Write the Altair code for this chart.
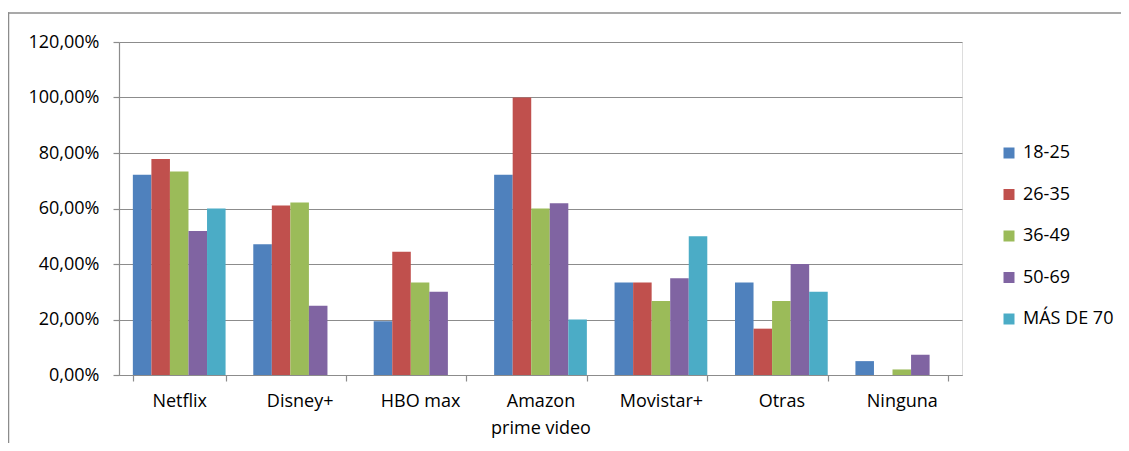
import altair as alt
import pandas as pd

categories = ["Netflix", "Disney+", "HBO max", "Amazon prime video", "Movistar+", "Otras", "Ninguna"]
groups = ["18-25", "26-35", "36-49", "50-69", "MÁS DE 70"]
colors = ["#4F81BD", "#C0504D", "#9BBB59", "#8064A2", "#4BACC6"]

v_18_25 = [72.2, 47.1, 19.4, 72.2, 33.3, 33.3, 5.0]
v_26_35 = [77.8, 61.1, 44.4, 100.0, 33.3, 16.7, 0.0]
v_36_49 = [73.3, 62.2, 33.3, 60.0, 26.7, 26.7, 2.0]
v_50_69 = [51.9, 25.0, 30.0, 61.9, 34.9, 40.0, 7.3]
v_70 = [60.0, 0.0, 0.0, 20.0, 50.0, 30.0, 0.0]

series = [v_18_25, v_26_35, v_36_49, v_50_69, v_70]
rows = []
for g, vals in zip(groups, series):
    for c, v in zip(categories, vals):
        rows.append({"Plataforma": c, "Edad": g, "Valor": v})
df = pd.DataFrame(rows)

FONT = "Open Sans"
FS = 18
GRID = "#8c8c8c"

bars = alt.Chart(df).mark_bar().encode(
    x=alt.X("Plataforma:N", sort=categories,
            scale=alt.Scale(paddingInner=0.23, paddingOuter=0.115),
            axis=alt.Axis(title=None, labelAngle=0, tickBand="extent", tickSize=6, grid=False,
                          labelPadding=11, labelFontSize=FS, labelFont=FONT,
                          labelColor="#000000", domainColor=GRID, tickColor=GRID,
                          domainWidth=1.2, tickWidth=1.2,
                          labelLineHeight=27,
                          labelExpr="datum.label == 'Amazon prime video' ? ['Amazon', 'prime video'] : datum.label")),
    xOffset=alt.XOffset("Edad:N", sort=groups, scale=alt.Scale(paddingInner=0, paddingOuter=0)),
    y=alt.Y("Valor:Q", scale=alt.Scale(domain=[0, 120], nice=False),
            axis=alt.Axis(title=None, values=[0, 20, 40, 60, 80, 100, 120], tickSize=6,
                          labelPadding=14, labelFontSize=FS, labelFont=FONT,
                          labelColor="#000000", domainColor=GRID, tickColor=GRID,
                          domainWidth=1.2, tickWidth=1.2,
                          gridColor=GRID, gridWidth=1.2,
                          labelExpr="replace(format(datum.value, '.2f'), '.', ',') + '%'")),
    color=alt.Color("Edad:N", sort=groups,
                    scale=alt.Scale(domain=groups, range=colors),
                    legend=alt.Legend(title=None, orient="none", legendX=881, legendY=102,
                                      symbolType="square", symbolSize=121,
                                      symbolStrokeWidth=0, labelFontSize=FS, labelFont=FONT,
                                      labelColor="#000000", rowPadding=23.5, labelOffset=5)),
)

border_left = alt.Chart(alt.Data(values=[{}])).mark_rect(
    fill="#8c8c8c", strokeWidth=0
).encode(x=alt.value(-111.25), x2=alt.value(-109.75), y=alt.value(-29.75), y2=alt.value(600))

border_top = alt.Chart(alt.Data(values=[{}])).mark_rect(
    fill="#8c8c8c", strokeWidth=0
).encode(x=alt.value(-111.25), x2=alt.value(1300), y=alt.value(-29.75), y2=alt.value(-28.25))

chart = alt.layer(border_left, border_top, bars).properties(
    width=843, height=333,
    autosize=alt.AutoSizeParams(type="none"),
    padding={"left": 111, "top": 34, "right": 159, "bottom": 68},
).configure_view(strokeOpacity=0, strokeWidth=0).configure(background="white")

chart.save("out.html", embed_options={"renderer": "svg", "actions": False})
